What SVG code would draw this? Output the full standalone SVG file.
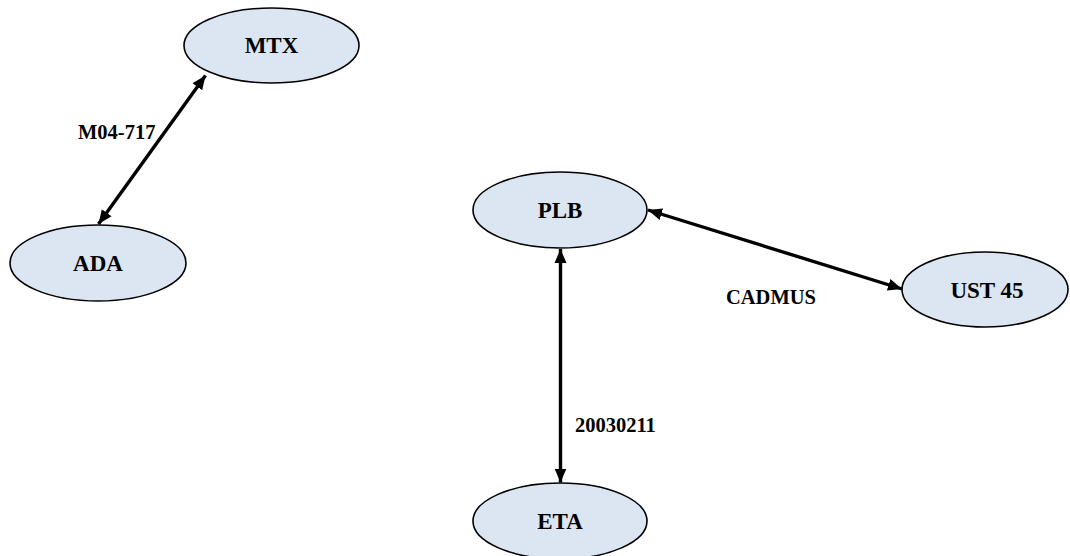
<svg xmlns="http://www.w3.org/2000/svg" width="1070" height="556" viewBox="0 0 1070 556">
<defs>
<style>
.node ellipse{fill:#dce6f2;stroke:#000;stroke-width:1.6}
.node text{font-family:"Liberation Serif","Times New Roman",serif;font-weight:bold;font-size:23px;text-anchor:middle;fill:#000}
.lbl{font-family:"Liberation Serif","Times New Roman",serif;font-weight:bold;font-size:20.5px;fill:#000}
.edge{stroke:#000;stroke-width:3.4;fill:none;marker-start:url(#ah);marker-end:url(#ah)}
</style>
<marker id="ah" markerUnits="userSpaceOnUse" markerWidth="16" markerHeight="14" refX="14" refY="7" orient="auto-start-reverse">
<path d="M0,1 L14,7 L0,13 z" fill="#000"/>
</marker>
</defs>
<rect width="1070" height="556" fill="#fff"/>
<g id="connectors">
<line class="edge" x1="205.5" y1="75.5" x2="98.5" y2="224"/>
<line class="edge" x1="648" y1="210" x2="902" y2="289"/>
<line class="edge" x1="560.5" y1="249" x2="560.5" y2="482.5"/>
<text class="lbl" x="78" y="139">M04-717</text>
<text class="lbl" x="726" y="304">CADMUS</text>
<text class="lbl" x="575" y="432">20030211</text>
</g>
<g id="MTX" class="node"><ellipse cx="271.5" cy="45.5" rx="87.5" ry="37.5"/><text x="271.5" y="53">MTX</text></g>
<g id="ADA" class="node"><ellipse cx="98" cy="263" rx="88" ry="38"/><text x="98" y="271">ADA</text></g>
<g id="PLB" class="node"><ellipse cx="560" cy="210" rx="87" ry="38"/><text x="560" y="218">PLB</text></g>
<g id="UST45" class="node"><ellipse cx="985" cy="289.5" rx="83" ry="37.5"/><text x="987" y="297.5">UST 45</text></g>
<g id="ETA" class="node"><ellipse cx="560" cy="521" rx="87" ry="38"/><text x="560" y="529">ETA</text></g>
</svg>
